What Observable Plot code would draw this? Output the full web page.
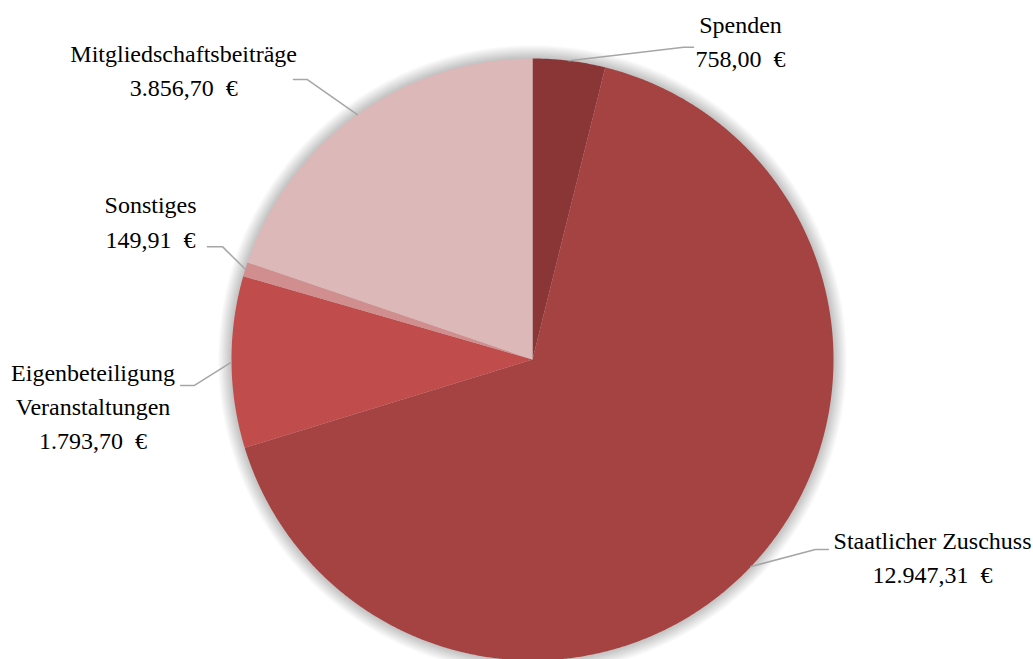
<!DOCTYPE html>
<html>
<head>
<meta charset="utf-8">
<script src="https://cdn.jsdelivr.net/npm/d3@7"></script>
<script src="https://cdn.jsdelivr.net/npm/@observablehq/plot@0.6"></script>
<style>
  html, body { margin: 0; padding: 0; background: #fff; }
  #chart svg { display: block; }
</style>
</head>
<body>
<div id="chart"></div>
<script>
// ---- data ----
const categories = ["Spenden", "Staatlicher Zuschuss", "Eigenbeteiligung\nVeranstaltungen", "Sonstiges", "Mitgliedschaftsbeiträge"];
const values = [758.00, 12947.31, 1793.70, 149.91, 3856.70];
const colors = ["#8B3636", "#A54242", "#C04C4C", "#D08E8E", "#DCB8B8"];

// ---- layout (label placement, in pie-radius units) ----
const labelElbowX = [0.502, 0.940, -1.123, -1.030, -0.748];
const labelElbowY = [1.037, -0.631, -0.086, 0.375, 0.930];
const labelEndX   = [0.535, 0.983, -1.169, -1.080, -0.794];
const labelEndY   = [1.037, -0.631, -0.086, 0.375, 0.930];
const labelTextX  = [0.691, 1.329, -1.460, -1.269, -1.159];
const labelTextY  = [0.973, -0.744, -0.299, 0.372, 0.874];

const W = 1033, H = 659, CX = 532, CY = 359, R = 301;
const FONT = "'Liberation Serif', 'Times New Roman', serif";

const de = d3.formatLocale({decimal: ",", thousands: ".", grouping: [3], currency: ["", " €"]});
const fmt = de.format(",.2f");

const arcs = d3.pie().sort(null).value(d => d)(values);

// slice polygons
const slicePts = [];
arcs.forEach((a, i) => {
  const name = categories[i];
  slicePts.push({name, x: 0, y: 0});
  const n = Math.max(2, Math.ceil((a.endAngle - a.startAngle) / 0.005));
  for (let k = 0; k <= n; k++) {
    const t = a.startAngle + (a.endAngle - a.startAngle) * k / n;
    slicePts.push({name, x: Math.sin(t), y: Math.cos(t)});
  }
  slicePts.push({name, x: 0, y: 0});
});

// soft halo: stacked translucent discs slightly larger than the pie
const haloPts = [];
for (let layer = 1; layer <= 12; layer++) {
  const s = 1 + layer * 0.0037;
  for (let k = 0; k <= 720; k++) {
    const t = k / 720 * 2 * Math.PI;
    haloPts.push({layer, x: s * Math.sin(t), y: s * Math.cos(t)});
  }
}

// leader lines
const leaderPts = [];
arcs.forEach((a, i) => {
  const m = (a.startAngle + a.endAngle) / 2;
  leaderPts.push({name: categories[i], x: Math.sin(m), y: Math.cos(m)});
  leaderPts.push({name: categories[i], x: labelElbowX[i], y: labelElbowY[i]});
  leaderPts.push({name: categories[i], x: labelEndX[i], y: labelEndY[i]});
});

const labels = categories.map((c, i) => ({
  text: c + "\n" + fmt(values[i]) + "\u2002€",
  x: labelTextX[i], y: labelTextY[i]
}));

const plot = Plot.plot({
  width: W, height: H,
  margin: 0,
  style: {background: "#fff", fontFamily: FONT},
  x: {domain: [-1, 1], range: [CX - R, CX + R], axis: null},
  y: {domain: [-1, 1], range: [CY + R, CY - R], axis: null},
  color: {domain: categories, range: colors},
  marks: [
    Plot.line(haloPts, {x: "x", y: "y", z: "layer", fill: "#000", fillOpacity: 0.02, stroke: null}),
    Plot.line(slicePts, {x: "x", y: "y", z: "name", fill: "name", stroke: null}),
    Plot.line(leaderPts, {x: "x", y: "y", z: "name", stroke: "#A6A6A6", strokeWidth: 1.5, curve: "linear"}),
    Plot.text(labels, {x: "x", y: "y", text: "text", fontSize: 24, fontFamily: FONT, lineHeight: 1.42, lineAnchor: "bottom", textAnchor: "middle", fill: "#000"})
  ]
});

document.getElementById("chart").appendChild(plot);
</script>
</body>
</html>
